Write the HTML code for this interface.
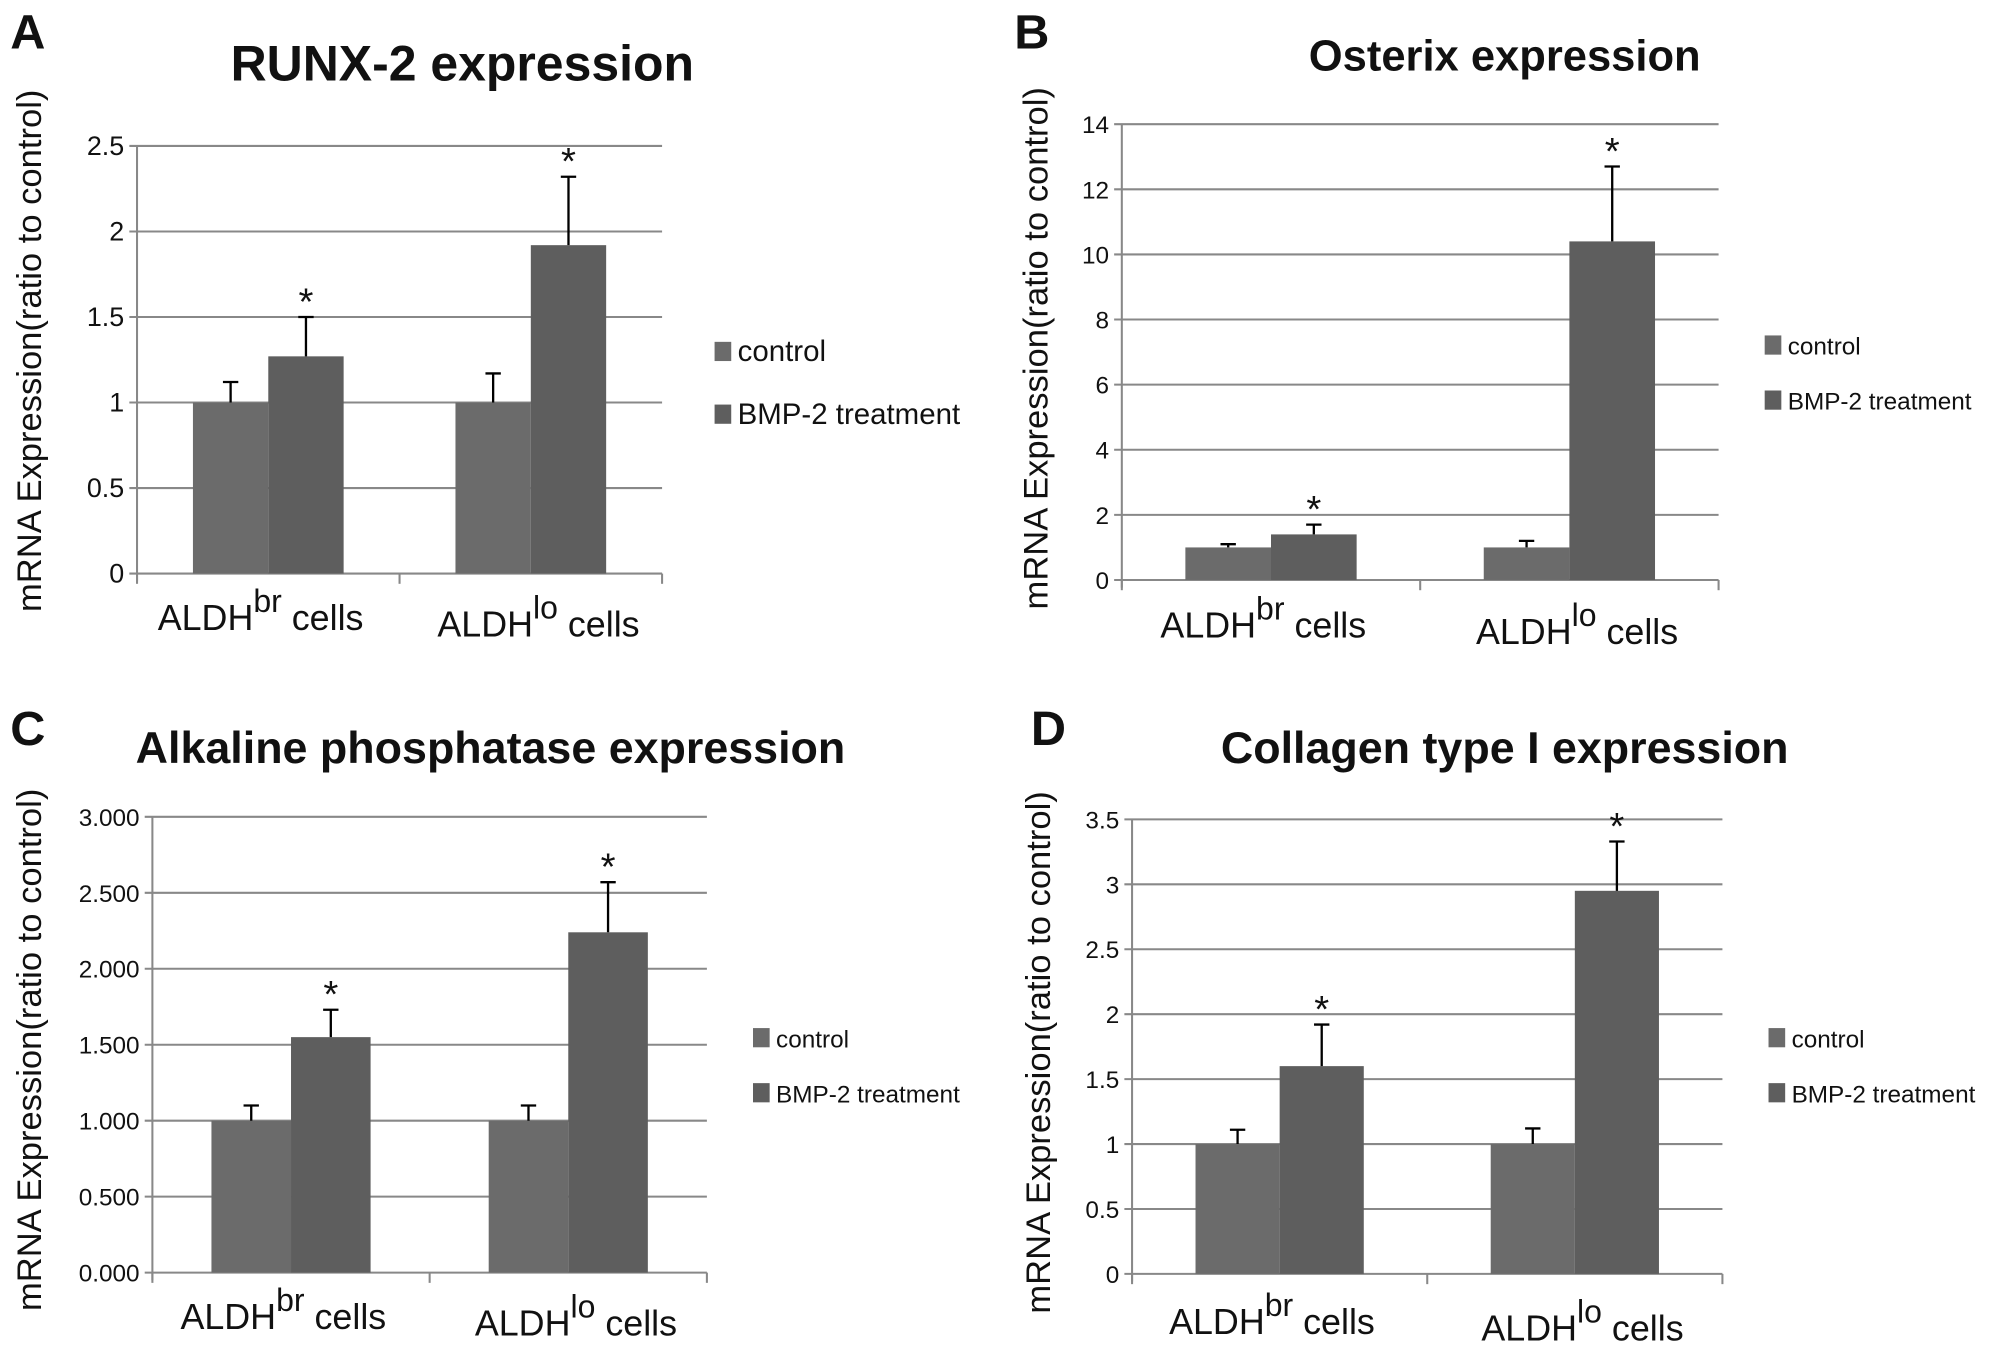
<!DOCTYPE html>
<html><head><meta charset="utf-8"><style>
html,body{margin:0;padding:0;background:#fff;}
svg{display:block;}
text{font-family:"Liberation Sans Narrow","Liberation Sans",sans-serif;fill:#111;}
.ttl{font-family:"Liberation Sans",sans-serif;font-weight:bold;}
.ax{font-family:"Liberation Sans",sans-serif;}
</style></head><body>
<svg id="fig" width="2008" height="1352" viewBox="0 0 1568 1056" preserveAspectRatio="none" xmlns="http://www.w3.org/2000/svg"></svg>
<script>
const categories = ["br", "lo"];
const seriesNames = ["control", "BMP-2 treatment"];
const aControl = [1, 1];
const aBmp = [1.27, 1.92];
const aControlErr = [1.12, 1.17];
const aBmpErr = [1.5, 2.32];
const aTicks = ["0", "0.5", "1", "1.5", "2", "2.5"];
const bControl = [1, 1];
const bBmp = [1.4, 10.4];
const bControlErr = [1.1, 1.2];
const bBmpErr = [1.7, 12.7];
const bTicks = ["0", "2", "4", "6", "8", "10", "12", "14"];
const cControl = [1, 1];
const cBmp = [1.55, 2.24];
const cControlErr = [1.1, 1.1];
const cBmpErr = [1.73, 2.57];
const cTicks = ["0.000", "0.500", "1.000", "1.500", "2.000", "2.500", "3.000"];
const dControl = [1, 1];
const dBmp = [1.6, 2.95];
const dControlErr = [1.11, 1.12];
const dBmpErr = [1.92, 3.33];
const dTicks = ["0", "0.5", "1", "1.5", "2", "2.5", "3", "3.5"];

const NS = "http://www.w3.org/2000/svg";
const svg = document.getElementById('fig');
function mk(tag, attrs, parent, txt) {
  const e = document.createElementNS(NS, tag);
  for (const k in attrs) e.setAttribute(k, attrs[k]);
  if (txt !== undefined) e.textContent = txt;
  (parent || svg).appendChild(e);
  return e;
}
function panel(cfg) {
  const g = mk('g', {});
  
  
  const ticks = cfg.ticks;
  const max = parseFloat(ticks[ticks.length - 1]);
  const y = v => cfg.y0 - (v / max) * (cfg.y0 - cfg.y1);
  const W = cfg.x1 - cfg.x0;
  const gw = W / categories.length;
  const bw = gw * cfg.bf;
  ticks.forEach(t => {
    const v = parseFloat(t);
    const gl = mk('line', {x1: cfg.x0 - 6, x2: cfg.x1, y1: y(v), y2: y(v), stroke: '#888', 'stroke-width': 1.6}, g);
    
    
    const tl = mk('text', {x: cfg.x0 - 10, y: y(v) + 7, 'text-anchor': 'end', 'font-size': cfg.tfs}, g, t);
    
    
  });
  mk('line', {x1: cfg.x0, x2: cfg.x0, y1: cfg.y1, y2: y(0) + 6, stroke: '#888', 'stroke-width': 1.6}, g);
  for (let i = 0; i <= categories.length; i++) {
    mk('line', {x1: cfg.x0 + i * gw, x2: cfg.x0 + i * gw, y1: y(0), y2: y(0) + 8, stroke: '#888', 'stroke-width': 1.6}, g);
  }
  const series = [[cfg.ctrl, cfg.ctrlErr, '#6b6b6b'], [cfg.bmp, cfg.bmpErr, '#5e5e5e']];
  categories.forEach((c, i) => {
    const cx = cfg.x0 + gw * (i + 0.5);
    series.forEach((s, j) => {
      const bx = cx - bw + j * bw;
      const r = mk('rect', {x: bx, y: y(s[0][i]), width: bw, height: y(0) - y(s[0][i]), fill: s[2]}, g);
      
      
      const mx = bx + bw / 2;
      const eb = mk('path', {d: `M${mx},${y(s[0][i])}V${y(s[1][i])}M${mx - 6},${y(s[1][i])}H${mx + 6}`, stroke: '#000', 'stroke-width': 1.8, fill: 'none'}, g);
      
      
      if (j === 1) {
        const st = mk('text', {x: mx, y: y(s[1][i]) - 2, 'text-anchor': 'middle', 'font-size': 30, class: 'ax'}, g, '*');
        
        
      }
    });
    const lab = mk('text', {x: cx + (i ? 6 : -6), y: y(0) + cfg.cly + i * 5, 'text-anchor': 'middle', 'font-size': 28, class: 'ax'}, g);
    
    
    mk('tspan', {}, lab, 'ALDH');
    mk('tspan', {dy: -14, 'font-size': 25}, lab, c);
    mk('tspan', {dy: 14}, lab, ' cells');
  });
  const yt = mk('text', {x: 0, y: 0, transform: `translate(${cfg.ytx},${cfg.yty}) rotate(-90)`, 'text-anchor': 'middle', 'font-size': 27, class: 'ax'}, g, 'mRNA Expression(ratio to control)');
  
  
  const tt = mk('text', {x: cfg.tx, y: cfg.ty, 'text-anchor': 'middle', 'font-size': cfg.tts, class: 'ttl'}, g, cfg.title);
  
  
  const pl = mk('text', {x: cfg.lx, y: cfg.ly, 'font-size': 38, class: 'ttl'}, g, cfg.id);
  
  
  seriesNames.forEach((n, j) => {
    const ly = cfg.legy[j];
    const sw = mk('rect', {x: cfg.legx, y: ly - 8, width: 13, height: 15, fill: j ? '#5e5e5e' : '#6b6b6b'}, g);
    
    
    const lt = mk('text', {x: cfg.legx + 18, y: ly + 7, 'font-size': cfg.lfs}, g, n);
    
    
  });
}
panel({id: 'A', title: 'RUNX-2 expression', ticks: aTicks, ctrl: aControl, bmp: aBmp, ctrlErr: aControlErr, bmpErr: aBmpErr,
  x0: 107, x1: 517, y0: 448, y1: 114, bf: 0.287, tfs: 21, cly: 44, ytx: 32, yty: 274, tx: 361, ty: 63, tts: 39, lx: 8, ly: 38,
  legx: 558, legy: [275, 324], lfs: 23});
panel({id: 'B', title: 'Osterix expression', ticks: bTicks, ctrl: bControl, bmp: bBmp, ctrlErr: bControlErr, bmpErr: bBmpErr,
  x0: 876, x1: 1342, y0: 453, y1: 97, bf: 0.287, tfs: 19, cly: 45, ytx: 818, yty: 272, tx: 1175, ty: 55, tts: 34, lx: 792, ly: 38,
  legx: 1378, legy: [270, 313], lfs: 19});
panel({id: 'C', title: 'Alkaline phosphatase expression', ticks: cTicks, ctrl: cControl, bmp: cBmp, ctrlErr: cControlErr, bmpErr: cBmpErr,
  x0: 119, x1: 552, y0: 994, y1: 638, bf: 0.287, tfs: 19, cly: 44, ytx: 32, yty: 820, tx: 383, ty: 596, tts: 35, lx: 8, ly: 582,
  legx: 588, legy: [811, 854], lfs: 19});
panel({id: 'D', title: 'Collagen type I expression', ticks: dTicks, ctrl: dControl, bmp: dBmp, ctrlErr: dControlErr, bmpErr: dBmpErr,
  x0: 884, x1: 1345, y0: 995, y1: 640, bf: 0.285, tfs: 19, cly: 47, ytx: 820, yty: 822, tx: 1175, ty: 596, tts: 35, lx: 805, ly: 582,
  legx: 1381, legy: [811, 854], lfs: 19});
</script>
</body></html>
